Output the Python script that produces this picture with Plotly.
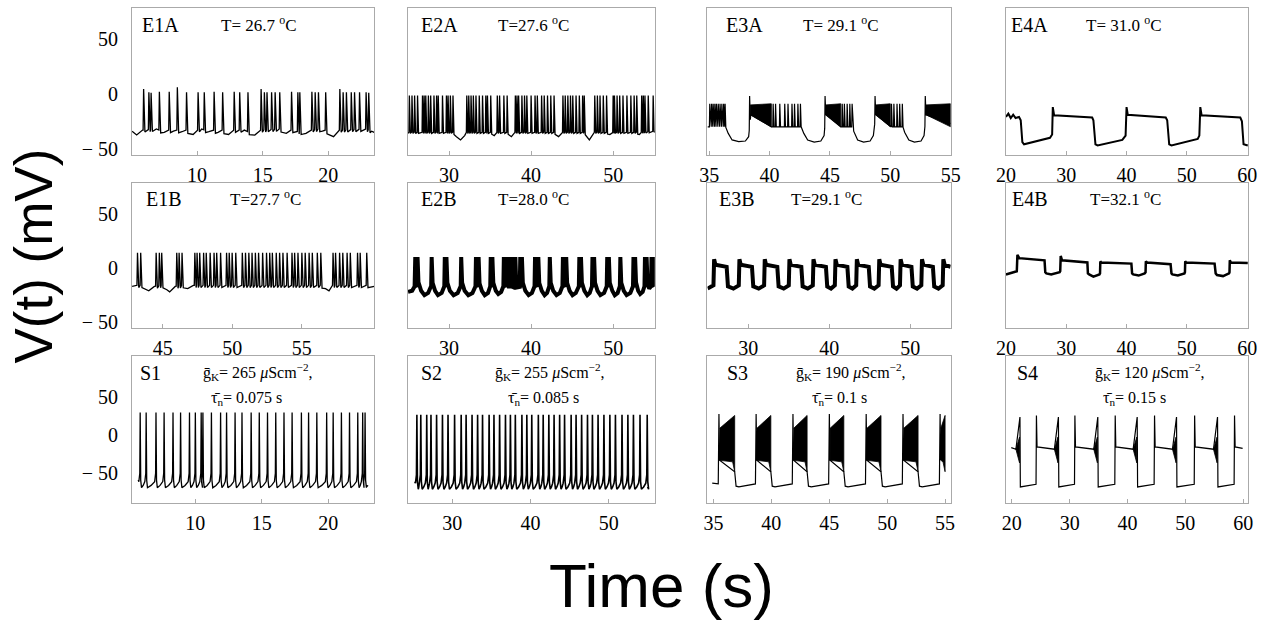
import numpy as np
import plotly.graph_objects as go

W, H = 1285, 621

# ======================= DATA =======================
# ---- E1A ----
E1A_spike_t = [5.93, 6.33, 6.5, 7.13, 7.88, 8.5, 9.2, 10.08, 10.55, 11.3, 11.95, 12.83, 13.25,
               13.88, 14.88, 15.13, 15.33, 15.68, 15.95, 16.3, 17.2, 17.68, 17.83, 18.75, 19.0,
               19.25, 19.8, 20.88, 21.13, 21.38, 21.75, 22.0, 22.38, 22.88, 23.08]
E1A_spike_v = [4.5, 1.5, 1.0, 2.0, 2.0, 6.0, 1.5, 1.5, 1.5, 2.0, 1.5, 2.0, 1.5,
               1.5, 4.5, 1.5, 1.5, 1.5, 1.5, 1.5, 2.0, 1.5, 1.5, 2.0, 1.5,
               1.5, 1.5, 4.5, 1.5, 1.5, 1.5, 1.5, 1.5, 1.5, 1.0]
E1A_base_t = [5.05, 5.4, 5.85, 6.9, 7.5, 7.85, 8.2, 8.45, 8.85, 9.15, 9.7, 10.05, 10.35, 10.9,
              11.25, 11.6, 11.9, 12.4, 12.8, 13.6, 14.4, 14.85, 16.3, 16.8, 17.15, 18.3, 18.7,
              19.3, 19.55, 19.75, 20.4, 20.85, 22.9, 23.3, 23.5]
E1A_base_v = [-34, -37.5, -33, -32, -35, -33, -34, -33, -34.5, -33, -37, -33, -32, -34.5,
              -33, -35, -33, -37, -33, -33, -37.5, -33, -32, -36, -33, -36, -33,
              -32, -34, -33, -39, -33, -32, -34, -35]

# ---- E2A ----
E2A_spike_t = [25.16, 25.48, 25.8, 26.16, 26.76, 26.96, 27.16, 27.48, 27.76, 28.16, 28.48, 28.68,
               29.2, 29.68, 29.88, 30.16, 30.48, 32.16, 32.4, 32.68, 32.96, 33.28, 33.68, 34.08,
               34.48, 34.68, 35.08, 35.88, 36.16, 36.68, 37.08, 38.08, 38.28, 38.48, 38.88, 39.2,
               39.48, 40.0, 40.48, 40.76, 41.28, 41.6, 42.0, 42.4, 42.8, 43.88, 44.16, 44.48,
               44.8, 45.08, 45.48, 45.88, 46.28, 46.48, 47.76, 48.08, 48.4, 48.8, 49.2, 50.0,
               50.16, 50.48, 50.8, 51.2, 51.68, 52.16, 52.56, 52.88, 53.48, 53.68, 53.88, 54.28,
               54.88]
E2A_spike_v = -1.5
E2A_base_t = [25.0, 25.1, 30.5, 30.9, 31.4, 31.9, 32.1, 35.1, 35.5, 35.85, 37.1, 37.6, 38.0,
              42.8, 43.35, 43.85, 46.5, 47.1, 47.7, 49.2, 49.6, 50.0, 52.9, 53.2, 53.45, 55.1]
E2A_base_v = [-36, -35, -35, -39, -42, -38, -35, -35, -38, -35, -35, -39, -35,
              -35, -39, -35, -35, -42, -35, -35, -37, -35, -35, -37, -35, -34]

# ---- E3A ----
E3A_spike_t = [35.05, 35.2, 35.33, 35.47, 35.6, 35.75, 35.9, 36.05, 36.2, 36.32,
               38.35, 40.3, 40.5, 40.85, 41.26, 41.53, 41.86, 42.07, 42.35, 42.56,
               44.6, 46.02, 46.2, 46.43, 46.65, 46.84,
               48.74, 50.1, 50.3, 50.56, 50.78, 51.0, 52.9]
E3A_spike_v = [-9, -9, -9, -9, -9, -9, -9, -9, -9, -9,
               -2, -9, -9, -9, -9, -9, -9, -9, -9, -9,
               -2, -9, -9, -9, -9, -9,
               -2, -9, -9, -9, -9, -9, -2]
E3A_base_t = [34.86, 36.36, 36.58, 36.9, 37.45, 38.0, 38.27, 38.45, 40.15, 42.62, 42.84, 43.16,
              43.7, 44.25, 44.52, 44.66, 45.9, 46.9, 46.97, 47.3, 47.79, 48.33, 48.6, 48.8,
              50.0, 51.05, 51.19, 51.54, 52.0, 52.55, 52.8, 52.96, 55.0]
E3A_base_v = [-30, -30, -36, -42, -43.5, -43, -39, -19, -30, -30, -36, -42,
              -44, -43, -38, -19, -30, -30, -34, -42, -44, -43, -38, -19,
              -30, -30, -35, -42, -44, -43, -38, -19, -27]
E3A_dense_start = [38.4, 44.66, 48.8, 52.96]
E3A_dense_end = [40.15, 45.9, 50.0, 55.0]
E3A_dense_top = [-10, -9]
E3A_dense_bottom = [-19, -30]

# ---- E4A ----
E4A_t = [20.0, 20.4, 20.8, 21.2, 21.6, 22.17, 22.45, 22.72, 23.0, 24.6, 26.25, 27.3, 27.66, 27.77,
         27.99, 31.14, 34.3, 34.5, 34.84, 35.2, 37.1, 39.3, 39.84, 40.0, 40.2, 43.6, 46.5,
         46.74, 47.07, 47.45, 49.6, 51.8, 52.07, 52.23, 52.45, 55.6, 58.86, 59.13, 59.4, 60.1]
E4A_v = [-21, -18, -22, -19, -22, -21, -24, -44, -46, -44, -42, -40, -37, -12,
         -19.5, -20.5, -21.5, -24, -46, -47, -44.5, -42, -38, -12, -19, -20.5, -21.5,
         -24, -46, -47, -44, -41, -38, -12, -19.5, -20.5, -21.5, -25, -46, -47]

# ---- E1B ----
E1B_spike_t = [43.19, 43.42, 44.53, 44.76, 44.93, 46.01, 46.18, 46.39, 47.31, 47.47, 47.66, 47.94,
               48.13, 48.41, 48.69, 48.88, 49.16, 49.59, 49.78, 49.99, 50.25, 50.72, 50.95, 51.19,
               51.42, 51.66, 51.89, 52.18, 52.46, 52.69, 52.88, 53.16, 53.4, 53.64, 53.94, 54.29,
               54.48, 54.72, 55.0, 55.24, 55.52, 55.75, 56.11, 56.36, 57.24, 57.42, 57.71, 57.94,
               58.25, 58.48, 59.0, 59.19, 59.66]
E1B_spike_v = 14.0
E1B_base_t = [42.8, 43.1, 43.5, 43.8, 44.0, 44.4, 45.0, 45.3, 45.5, 45.9, 46.45, 46.8, 47.2,
              56.4, 56.7, 56.95, 57.2, 59.7, 60.2]
E1B_base_v = [-17, -16, -16, -20, -21, -17, -16, -20, -22, -17, -16, -19, -16,
              -16, -19, -21, -16, -16, -17]

# ---- E2B ----
E2B_spike_t = [25.88, 26.16, 27.88, 29.48, 29.68, 31.48, 33.28, 33.6, 35.08, 35.28, 36.68, 36.88,
               37.08, 37.48, 37.76, 38.08, 38.68, 38.88, 40.48, 40.88, 42.28, 43.88, 44.08, 44.28,
               45.88, 46.08, 47.48, 47.68, 49.28, 49.48, 50.88, 52.48, 52.68, 53.88, 54.08, 54.68,
               54.88]
E2B_spike_v = 10.0
E2B_base_t = [25.0, 25.5, 25.8,
              26.35, 26.6, 27.0, 27.45, 27.75,
              28.05, 28.3, 28.65, 29.1, 29.38,
              29.85, 30.1, 30.55, 31.05, 31.38,
              31.65, 31.9, 32.35, 32.85, 33.18,
              33.75, 34.0, 34.35, 34.75, 34.98,
              35.45, 35.7, 36.0, 36.35, 36.58,
              37.0, 37.3, 37.6, 38.0, 38.4, 38.78,
              39.05, 39.3, 39.7, 40.1, 40.38,
              41.05, 41.3, 41.65, 41.95, 42.18,
              42.45, 42.7, 43.1, 43.5, 43.78,
              44.45, 44.7, 45.05, 45.45, 45.78,
              46.25, 46.5, 46.85, 47.15, 47.38,
              47.85, 48.1, 48.45, 48.9, 49.18,
              49.65, 49.9, 50.2, 50.55, 50.78,
              51.05, 51.3, 51.65, 52.1, 52.38,
              52.85, 53.05, 53.3, 53.6, 53.78,
              54.25, 54.4, 54.58, 55.1]
E2B_base_v = [-22, -21, -17,
              -15, -21, -25, -23, -17,
              -15, -21, -25, -23, -17,
              -15, -21, -25, -23, -17,
              -15, -21, -25, -23, -17,
              -15, -21, -25, -23, -17,
              -15, -21, -24, -22, -17,
              -16, -17, -17, -18, -18, -17,
              -15, -21, -25, -23, -17,
              -15, -21, -25, -23, -17,
              -15, -21, -25, -23, -17,
              -15, -21, -25, -23, -17,
              -15, -21, -25, -23, -17,
              -15, -21, -25, -23, -17,
              -15, -21, -25, -23, -17,
              -15, -21, -25, -23, -17,
              -15, -21, -24, -22, -17,
              -15, -19, -17, -15]

# ---- E3B (square wave: up / down transition times) ----
E3B_up = [25.77, 28.9, 32.03, 35.08, 38.05, 40.77, 43.41, 46.18, 48.82, 51.46, 54.1]
E3B_down = [27.4, 30.53, 33.66, 36.63, 39.67, 42.32, 44.96, 47.8, 50.24, 52.89]
E3B_levels = [8.0, 3.0, 1.0, -17.0, -19.0, -16.0]   # peak, plateau start/end, low start/mid/end

# ---- E4B ----
E4B_t = [20.0, 21.6, 21.8, 21.9, 22.2, 26.4, 26.52, 26.7, 27.5, 28.9, 29.0, 29.08, 29.3, 33.5,
         33.59, 33.8, 34.5, 35.5, 35.6, 35.65, 35.8, 40.8, 40.92, 41.1, 42.0, 43.0, 43.15, 43.2,
         43.4, 47.3, 47.45, 47.6, 48.5, 49.6, 49.68, 49.73, 49.9, 54.6, 54.78, 55.0, 56.0, 57.0,
         57.07, 57.12, 57.3, 60.1]
E4B_v = [-6, -3.5, -3, 12, 9, 7, -4, -5, -6, -4, -3, 11, 7, 5,
         -5, -6, -8, -6, -5, 6, 5, 4, -5, -6, -7, -5, -4, 6,
         5, 3.5, -5, -6, -7, -5, -4, 6, 5, 4, -5, -6.5, -7.5, -5,
         -4, 7, 5, 4.5]

# ---- S1 ----
S1_spike_t = [5.85, 6.3, 7.04, 7.65, 8.32, 8.89, 9.56, 10.0, 10.44, 10.57, 11.21, 11.9, 12.35,
              12.99, 13.51, 14.2, 14.81, 15.43, 16.05, 16.67, 17.28, 17.98, 18.52, 19.14, 19.88,
              20.37, 20.99, 21.6, 22.22, 22.59, 22.77]
S1_levels = [30.0, -69.0, -61.0, -50.0]       # peak, trough, pre-spike, shoulder
S1_span = [5.7, 23.0]

# ---- S2 ----
S2_spike_t = [25.47, 25.97, 26.73, 27.27, 27.99, 28.74, 29.45, 30.29, 31.13, 31.76, 32.52, 33.23,
              33.86, 34.7, 35.32, 36.04, 36.79, 37.42, 38.05, 38.89, 39.52, 40.15, 40.99, 41.61,
              42.33, 43.0, 43.71, 44.34, 45.18, 45.81, 46.52, 47.27, 47.9, 48.62, 49.37, 50.13,
              50.84, 51.68, 52.43, 53.14, 53.98, 54.9]
S2_levels = [27.0, -71.0, -63.0, -52.0]
S2_span = [25.2, 55.0]

# ---- S3 (bursting) ----
S3_onset = [35.48, 38.69, 41.87, 45.01, 48.19, 51.37, 54.57]
S3_end = [36.84, 39.96, 43.09, 46.26, 49.47, 52.67, 55.0]
S3_levels = [28.0, 9.0, 26.0, -33.0, -48.0, -67.0, -64.0]
S3_span = [34.9, 55.0]

# ---- S4 ----
S4_down = [21.4, 28.05, 34.86, 41.67, 48.47, 55.56]
S4_up = [24.25, 30.9, 37.87, 44.67, 51.6, 58.5]
S4_levels = [24.0, 26.0, -68.0, -64.5, -15.4, -18.4]
S4_span = [19.9, 59.9]

# ---- axes ----
col_px = [(124, 370), (404, 655), (708.5, 955.5), (1011.7, 1257.7)]
row_px = [(8, 156), (184, 331), (359, 507)]
x_ranges = [[5.05, 23.5], [24.96, 55.08], [34.86, 55.0], [20.0, 60.16],
            [42.8, 60.2], [24.96, 55.08], [24.95, 55.0], [20.0, 60.16],
            [5.24, 23.46], [24.3, 55.87], [34.49, 55.48], [18.98, 60.85]]
x_ticks = [[10, 15, 20], [30, 40, 50], [35, 40, 45, 50, 55], [20, 30, 40, 50, 60],
           [45, 50, 55], [30, 40, 50], [30, 40, 50], [20, 30, 40, 50, 60],
           [10, 15, 20], [30, 40, 50], [35, 40, 45, 50, 55], [20, 30, 40, 50, 60]]
y_range_exp = [-55.5, 78.5]
y_range_sim = [-89.0, 104.0]
y_ticks = [50, 0, -50]
y_ticktext = ["50", "0", "\u2212 50"]

panel_names = ["E1A", "E2A", "E3A", "E4A", "E1B", "E2B", "E3B", "E4B", "S1", "S2", "S3", "S4"]
temps = ["T= 26.7 <sup>o</sup>C", "T=27.6 <sup>o</sup>C", "T= 29.1 <sup>o</sup>C", "T= 31.0 <sup>o</sup>C",
         "T=27.7 <sup>o</sup>C", "T=28.0 <sup>o</sup>C", "T=29.1 <sup>o</sup>C", "T=32.1 <sup>o</sup>C"]
gK = ["265", "255", "190", "120"]
tau_n = ["0.075", "0.085", "0.1", "0.15"]

# ======================= BUILDERS =======================

def spike_trace(base_t, base_v, spk_t, spk_v, rise, fall, ahp):
    bt = np.asarray(base_t, float)
    bv = np.asarray(base_v, float)
    st = np.asarray(spk_t, float)
    pk = np.broadcast_to(np.asarray(spk_v, float), st.shape)
    pts = []
    for t, v in zip(bt, bv):
        if st.size == 0 or np.all((t < st - rise) | (t > st + fall)):
            pts.append((t, v))
    for t, p in zip(st, pk):
        pts.append((t - rise, np.interp(t - rise, bt, bv)))
        pts.append((t, p))
        pts.append((t + fall, np.interp(t + fall, bt, bv) - ahp))
    pts.sort()
    return [p[0] for p in pts], [p[1] for p in pts]


def square_trace(up, down, lev, t0, t1, dt):
    peak, hi0, hi1, lo0, lo1, lo2 = lev
    pts = [(t0, lo1), (up[0] - 2 * dt, lo2)]
    for i, u in enumerate(up):
        pts += [(u - dt, lo2), (u, peak), (u + 2 * dt, hi0)]
        if i < len(down):
            d = down[i]
            pts += [(d - dt, hi1), (d + dt, lo0), ((d + up[i + 1]) / 2 if i + 1 < len(up) else d + 1, lo1)]
        else:
            pts.append((t1, hi1))
    return [p[0] for p in pts], [p[1] for p in pts]


def regular_spiking(spk_t, lev, span, dt):
    peak, trough, pre, shoulder = lev
    pts = [(span[0], pre + 2)]
    for i, t in enumerate(spk_t):
        pts += [(t - 2 * dt, pre), (t - 0.6 * dt, shoulder), (t, peak), (t + 0.8 * dt, trough + 10),
                (t + 2 * dt, trough)]
        nxt = spk_t[i + 1] if i + 1 < len(spk_t) else span[1]
        pts.append(((t + nxt) / 2, trough + 3))
    pts.append((span[1], trough + 2))
    return [p[0] for p in pts], [p[1] for p in pts]


def bursting_S3(onset, end, lev, span, dt):
    pk, top0, top1, bot0, bot1, rest0, rest1 = lev
    line = [(span[0], rest1 + 1)]
    polys = []
    for o, e in zip(onset, end):
        line += [(o - dt, rest1), (o, pk), (o + dt, bot0)]
        polys.append(([o + dt, e, e, e - 3 * dt, o + dt], [top0, top1, bot1, bot0 - 2, bot0]))
        if e < span[1] - dt:
            line += [(e, bot1), (e + 2 * dt, rest0), (e + 6 * dt, rest0 - 1)]
    return [p[0] for p in line], [p[1] for p in line], polys


def bursting_S4(down, up, lev, span, dt):
    pkd, pku, lo0, lo1, pl0, pl1 = lev
    line = [(span[0], pl0 - 1)]
    polys = []
    for d, u in zip(down, up):
        line += [(d - 10 * dt, pl1), (d, pkd), (d + dt, lo0), (u - dt, lo1), (u, pku), (u + 1.5 * dt, pl0)]
        polys.append(([d - 10 * dt, d - dt, d - dt, d - 10 * dt], [pl1, pl1 + 16, pl1 - 18, pl1]))
    line.append((span[1], pl1 + 1))
    line.sort()
    return [p[0] for p in line], [p[1] for p in line], polys


# ======================= FIGURE =======================
fig = go.Figure()

def axname(i, letter):
    return letter if i == 0 else f"{letter}{i + 1}"

def add_line(i, x, y, width=1.2):
    fig.add_trace(go.Scatter(x=x, y=y, mode="lines", line=dict(color="black", width=width),
                             xaxis=axname(i, "x"), yaxis=axname(i, "y"), showlegend=False,
                             hoverinfo="skip"))

def add_poly(i, x, y):
    fig.add_trace(go.Scatter(x=x, y=y, mode="lines", fill="toself", fillcolor="black",
                             line=dict(color="black", width=0.8),
                             xaxis=axname(i, "x"), yaxis=axname(i, "y"), showlegend=False,
                             hoverinfo="skip"))

add_line(0, *spike_trace(E1A_base_t, E1A_base_v, E1A_spike_t, E1A_spike_v, 0.04, 0.1, 2), 1.3)
add_line(1, *spike_trace(E2A_base_t, E2A_base_v, E2A_spike_t, E2A_spike_v, 0.05, 0.12, 1), 1.3)
for s, e in zip(E3A_dense_start, E3A_dense_end):
    add_poly(2, [s, e, e, s, s], [E3A_dense_top[0], E3A_dense_top[1], E3A_dense_bottom[1],
                                  E3A_dense_bottom[0], E3A_dense_top[0]])
add_line(2, *spike_trace(E3A_base_t, E3A_base_v, E3A_spike_t, E3A_spike_v, 0.03, 0.06, 0), 1.2)
add_line(3, E4A_t, E4A_v, 2.0)
add_line(4, *spike_trace(E1B_base_t, E1B_base_v, E1B_spike_t, E1B_spike_v, 0.04, 0.09, 2), 1.3)
add_line(5, *spike_trace(E2B_base_t, E2B_base_v, E2B_spike_t, E2B_spike_v, 0.06, 0.12, 0), 4.0)
add_line(6, *square_trace(E3B_up, E3B_down, E3B_levels, 24.96, 55.0, 0.08), 4.0)
add_line(7, E4B_t, E4B_v, 2.5)
add_line(8, *regular_spiking(S1_spike_t, S1_levels, S1_span, 0.05), 1.3)
add_line(9, *regular_spiking(S2_spike_t, S2_levels, S2_span, 0.09), 1.6)
x3, y3, p3 = bursting_S3(S3_onset, S3_end, S3_levels, S3_span, 0.06)
for px_, py_ in p3:
    add_poly(10, px_, py_)
add_line(10, x3, y3, 1.2)
x4, y4, p4 = bursting_S4(S4_down, S4_up, S4_levels, S4_span, 0.07)
for px_, py_ in p4:
    add_poly(11, px_, py_)
add_line(11, x4, y4, 1.2)

FRAME = "#aaaaaa"
TICKFONT = dict(family="Liberation Serif", size=20, color="black")
layout = dict(width=W, height=H, margin=dict(l=0, r=0, t=0, b=0),
              paper_bgcolor="white", plot_bgcolor="white", showlegend=False)
for i in range(12):
    r, c = divmod(i, 4)
    l, rr = col_px[c]
    t, b = row_px[r]
    xa = dict(domain=[l / W, rr / W], range=x_ranges[i], showline=True, mirror=True,
              linecolor=FRAME, linewidth=1, showgrid=False, zeroline=False,
              ticks="inside", ticklen=4, tickcolor=FRAME, tickvals=x_ticks[i],
              tickfont=TICKFONT, ticklabelstandoff=2, anchor=axname(i, "y"), fixedrange=True)
    ya = dict(domain=[1 - b / H, 1 - t / H], range=y_range_sim if r == 2 else y_range_exp,
              showline=True, mirror=True, linecolor=FRAME, linewidth=1, showgrid=False,
              zeroline=False, ticks="", anchor=axname(i, "x"), fixedrange=True,
              tickvals=y_ticks, ticktext=y_ticktext, tickfont=TICKFONT,
              showticklabels=(c == 0), ticklabelstandoff=9)
    layout["xaxis" if i == 0 else f"xaxis{i + 1}"] = xa
    layout["yaxis" if i == 0 else f"yaxis{i + 1}"] = ya

fig.update_layout(**layout)

SERIF = "Liberation Serif"
def ann(text, x, y, size=17, xanchor="left", **kw):
    fig.add_annotation(text=text, x=x / W, y=1 - y / H, xref="paper", yref="paper",
                       xanchor=xanchor, yanchor="middle", showarrow=False,
                       font=dict(family=kw.pop("family", SERIF), size=size, color="black"), **kw)

name_pos = [(132, 25), (415, 25), (725, 25), (1015, 25),
            (136, 201), (415, 201), (718, 201), (1016, 201),
            (130, 376), (415, 376), (726, 376), (1021, 376)]
temp_pos = [(212, 24), (494, 24), (804, 24), (1091, 24),
            (221, 200), (494, 200), (791, 200), (1095, 200)]
g_pos = [(194, 375), (491, 375), (796, 375), (1100, 375)]
tau_pos = [(202, 402), (504, 402), (813, 402), (1108, 402)]

for i, nm in enumerate(panel_names):
    ann(nm, *name_pos[i], size=20)
for i, tx in enumerate(temps):
    ann(tx, *temp_pos[i], size=17)
for k in range(4):
    ann(f"\u1e21<sub>K</sub>= {gK[k]} <i>\u03bc</i>Scm<sup>\u22122</sup>,", *g_pos[k], size=16,
        bgcolor="white")
    ann(f"\u03c4\u0304<sub>n</sub>= {tau_n[k]} s", *tau_pos[k], size=16)

ann("V(t) (mV)", 24, 258, size=53, xanchor="center", family="Liberation Sans", textangle=-90)
ann("Time (s)", 662, 590, size=62, xanchor="center", family="Liberation Sans")

fig.write_html("out.html")
